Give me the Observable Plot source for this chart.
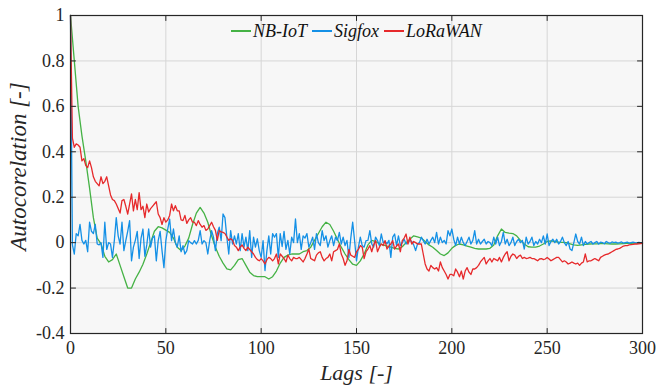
<!DOCTYPE html>
<html><head><meta charset="utf-8">
<script src="https://cdn.jsdelivr.net/npm/d3@7"></script>
<script src="https://cdn.jsdelivr.net/npm/@observablehq/plot@0.6"></script>
<style>
body{margin:0;background:#fff;}
#wrap{position:relative;width:657px;height:385px;}
#legend{position:absolute;left:231px;top:20px;display:flex;align-items:center;font-style:italic;font-size:18px;color:#111;white-space:nowrap;line-height:22px;}
#legend .sw{display:inline-block;width:20px;height:1.5px;margin-right:2px;}
#legend .it{margin-right:5px;}
</style></head><body>
<div id="wrap"><div id="legend"></div></div>
<script>
const seriesNames = ["NB-IoT", "Sigfox", "LoRaWAN"];
const seriesColors = ["#45b245", "#1490e6", "#e6292b"];
const xTicks = [0, 50, 100, 150, 200, 250, 300];
const yTicks = [-0.4, -0.2, 0, 0.2, 0.4, 0.6, 0.8, 1];
const yTickLabels = ["-0.4", "-0.2", "0", "0.2", "0.4", "0.6", "0.8", "1"];

// lags 0..300 (every lag) for Sigfox / LoRaWAN, every 2nd lag for NB-IoT
const lags = d3.range(0, 301);
const lagsNB = d3.range(0, 301, 2);

const nbiot = [
  1.0, 0.8, 0.6, 0.47, 0.36, 0.24, 0.11, 0.02, -0.005, -0.06,
  -0.085, -0.075, -0.05, -0.1, -0.15, -0.2, -0.2, -0.16, -0.13, -0.095,
  -0.05, 0.0, 0.05, 0.07, 0.065, 0.055, 0.045, 0.02, -0.02, -0.035,
  -0.015, 0.02, 0.08, 0.13, 0.155, 0.13, 0.09, 0.03, -0.02, -0.06,
  -0.09, -0.115, -0.12, -0.1, -0.075, -0.07, -0.1, -0.13, -0.145, -0.15,
  -0.15, -0.15, -0.16, -0.15, -0.125, -0.09, -0.065, -0.055, -0.05, -0.05,
  -0.05, -0.04, -0.035, -0.02, 0.01, 0.04, 0.07, 0.09, 0.08, 0.05,
  0.015, -0.02, -0.05, -0.075, -0.095, -0.1, -0.08, -0.05, -0.01, 0.01,
  0.005, -0.005, -0.01, -0.015, -0.02, -0.025, -0.028, -0.018, 0.0, 0.015,
  0.03, 0.025, 0.02, 0.005, -0.01, -0.02, -0.035, -0.05, -0.057, -0.045,
  -0.025, -0.012, -0.006, -0.01, -0.015, -0.02, -0.025, -0.028, -0.028, -0.028,
  -0.025, -0.01, 0.03, 0.06, 0.045, 0.042, 0.04, 0.03, 0.01, -0.006,
  -0.018, -0.02, -0.02, -0.015, -0.006, 0.005, 0.008, 0.005, 0.002, 0.001,
  0.0, -0.005, -0.01, -0.012, -0.01, -0.008, -0.006, -0.005, -0.005, -0.004,
  -0.004, -0.005, -0.006, -0.006, -0.005, -0.004, -0.003, -0.003, -0.002, -0.002,
  -0.002
];

const sigfox = [
  1.0, -0.01, -0.05, 0.04, 0.03, 0.08, 0.01, -0.006, 0.01, -0.04,
  0.09, 0.05, 0.04, 0.08, -0.006, -0.01, 0.0, -0.065, 0.09, -0.03,
  0.0, -0.006, -0.065, 0.01, 0.11, 0.03, -0.006, 0.09, -0.035, 0.009,
  0.05, 0.097, -0.08, -0.02, 0.01, 0.05, -0.07, 0.02, 0.06, -0.06,
  -0.01, 0.06, -0.02, 0.02, 0.03, -0.08, 0.009, 0.05, -0.035, -0.11,
  0.009, 0.06, 0.104, 0.009, 0.06, 0.0, -0.02, 0.03, -0.04, -0.013,
  -0.05, -0.035, 0.009, 0.0, -0.006, 0.009, -0.006, 0.01, 0.053, -0.006,
  0.009, 0.0, -0.05, 0.009, 0.053, 0.024, -0.035, 0.04, 0.068, 0.009,
  0.126, 0.11, 0.024, -0.05, 0.053, -0.006, 0.03, -0.006, 0.04, -0.035,
  0.04, -0.02, 0.024, -0.035, 0.053, -0.065, 0.024, -0.02, 0.017, -0.035,
  -0.065, 0.009, -0.123, -0.035, 0.03, -0.05, 0.04, 0.024, 0.04, -0.065,
  0.04, -0.017, 0.05, -0.03, 0.01, -0.05, 0.024, 0.0, 0.104, 0.0,
  0.04, -0.03, 0.03, 0.02, 0.04, -0.02, 0.0, 0.024, -0.03, 0.04,
  0.0, -0.013, 0.053, 0.009, 0.03, -0.02, 0.009, 0.03, -0.013, 0.024,
  0.009, 0.045, -0.006, 0.024, -0.013, 0.01, -0.065, 0.02, 0.09, 0.009,
  -0.08, -0.02, 0.024, -0.013, -0.02, 0.009, 0.01, 0.053, -0.006, -0.02,
  0.024, 0.009, -0.013, 0.038, 0.0, 0.005, -0.005, 0.01, -0.065, 0.024,
  0.038, -0.013, 0.03, -0.013, 0.0, 0.015, -0.006, 0.0, 0.01, 0.005,
  -0.01, -0.035, -0.006, 0.0, 0.024, 0.009, -0.006, 0.015, -0.006, 0.01,
  0.024, 0.0, 0.045, -0.006, 0.024, 0.0, 0.01, -0.006, 0.053, 0.03,
  0.06, 0.015, -0.013, 0.024, -0.006, 0.024, 0.0, -0.013, 0.005, 0.024,
  -0.006, 0.01, 0.053, -0.006, 0.015, -0.006, 0.005, 0.015, -0.006, 0.005,
  0.0, -0.013, 0.024, -0.006, 0.024, -0.013, 0.005, 0.045, -0.006, 0.015,
  -0.013, 0.0, 0.024, -0.013, 0.005, 0.015, 0.0, 0.01, -0.028, 0.024,
  -0.006, 0.005, 0.024, -0.013, 0.005, -0.006, 0.015, 0.0, 0.03, -0.006,
  0.038, -0.013, 0.005, 0.015, 0.0, 0.015, -0.006, 0.005, 0.024, 0.0,
  -0.013, 0.005, -0.028, -0.035, 0.0, 0.038, 0.005, -0.006, 0.024, -0.013,
  0.005, -0.006, 0.0, 0.005, -0.006, 0.0, 0.005, -0.006, 0.002, 0.0,
  -0.005, 0.005, 0.0, -0.003, 0.003, 0.0, 0.002, -0.002, 0.0, 0.003,
  -0.002, 0.0, 0.002, -0.002, 0.0, 0.002, 0.0, -0.001, 0.001, 0.0,
  0.0
];

const lorawan = [
  1.0, 0.46, 0.42, 0.435, 0.43, 0.42, 0.36, 0.37, 0.34, 0.33,
  0.36, 0.33, 0.29, 0.27, 0.26, 0.25, 0.29, 0.26, 0.27, 0.29,
  0.25, 0.21, 0.19, 0.185, 0.17, 0.15, 0.13, 0.185, 0.19, 0.16,
  0.126, 0.17, 0.215, 0.14, 0.19, 0.145, 0.22, 0.145, 0.16, 0.11,
  0.17, 0.135, 0.15, 0.16, 0.17, 0.18, 0.126, 0.11, 0.08, 0.11,
  0.09, 0.1, 0.12, 0.17, 0.14, 0.163, 0.14, 0.14, 0.1, 0.097,
  0.12, 0.085, 0.1, 0.11, 0.09, 0.09, 0.075, 0.097, 0.08, 0.068,
  0.075, 0.054, 0.06, 0.075, 0.09, 0.07, 0.054, 0.01, 0.054, 0.047,
  0.045, 0.04, 0.025, 0.01, 0.017, 0.01, -0.013, -0.02, -0.035, -0.02,
  -0.01, -0.025, -0.035, -0.02, -0.03, -0.04, -0.05, -0.065, -0.075, -0.08,
  -0.07, -0.08, -0.094, -0.075, -0.065, -0.07, -0.08, -0.07, -0.05, -0.094,
  -0.05, -0.06, -0.07, -0.085, -0.055, -0.07, -0.08, -0.065, -0.07, -0.07,
  -0.065, -0.075, -0.085, -0.07, -0.05, -0.028, -0.07, -0.075, -0.08, -0.055,
  -0.045, -0.04, -0.065, -0.08, -0.07, -0.065, -0.05, -0.08, -0.04, -0.035,
  -0.03, -0.006, -0.05, -0.07, -0.1, -0.08, -0.03, -0.055, -0.06, -0.065,
  -0.04, -0.03, -0.013, -0.02, -0.07, -0.04, -0.028, -0.013, -0.04, -0.01,
  0.009, -0.04, -0.02, -0.006, -0.013, 0.009, -0.028, -0.015, -0.006, 0.009,
  -0.028, -0.015, -0.006, -0.04, 0.009, 0.02, 0.038, -0.006, 0.024, -0.006,
  0.005, 0.0, -0.006, -0.006, -0.006, -0.05, -0.094, -0.116, -0.125, -0.1,
  -0.11, -0.116, -0.11, -0.125, -0.085, -0.11, -0.125, -0.14, -0.16, -0.14,
  -0.14, -0.146, -0.116, -0.13, -0.15, -0.125, -0.16, -0.125, -0.11, -0.13,
  -0.14, -0.116, -0.116, -0.11, -0.1, -0.085, -0.075, -0.065, -0.094, -0.08,
  -0.07, -0.085, -0.07, -0.075, -0.08, -0.065, -0.085, -0.065, -0.05, -0.04,
  -0.08, -0.06, -0.05, -0.055, -0.07, -0.06, -0.055, -0.07, -0.065, -0.07,
  -0.068, -0.065, -0.07, -0.07, -0.075, -0.08, -0.072, -0.07, -0.075, -0.072,
  -0.065, -0.072, -0.08, -0.075, -0.07, -0.065, -0.065, -0.075, -0.085, -0.08,
  -0.085, -0.094, -0.09, -0.085, -0.09, -0.094, -0.09, -0.1, -0.09, -0.085,
  -0.05, -0.085, -0.08, -0.08, -0.075, -0.07, -0.075, -0.08, -0.065, -0.06,
  -0.055, -0.052, -0.05, -0.045, -0.04, -0.035, -0.03, -0.028, -0.025, -0.02,
  -0.015, -0.013, -0.013, -0.01, -0.009, -0.008, -0.006, -0.006, -0.005, -0.004,
  -0.003
];

const nbRows = lagsNB.map((lag, i) => ({lag, value: nbiot[i]}));
const sfRows = lags.map((lag, i) => ({lag, value: sigfox[i]}));
const lrRows = lags.map((lag, i) => ({lag, value: lorawan[i]}));

const frameColor = "#262626";
const serif = "Liberation Serif, Tinos, Times New Roman, Times, Nimbus Roman, FreeSerif, Noto Serif, DejaVu Serif, serif";
document.getElementById("wrap").style.fontFamily = serif;
document.getElementById("legend").style.fontFamily = serif;
const tickShape = {draw(context, l) { context.moveTo(0, 0); context.lineTo(0, -l); }};
const tickOpts = {length: 5, anchor: "start", shape: tickShape, stroke: frameColor, strokeWidth: 1};

const chart = Plot.plot({
  width: 657, height: 385,
  marginLeft: 70, marginRight: 15, marginTop: 15, marginBottom: 52,
  style: {fontFamily: serif, background: "#fff", color: frameColor},
  x: {domain: [0, 300], label: null, axis: null},
  y: {domain: [-0.4, 1], label: null, axis: null},
  marks: [
    Plot.frame({fill: "#f7f7f7", stroke: null}),
    Plot.gridX(xTicks, {stroke: "#d6d6d6", strokeOpacity: 1, strokeWidth: 1}),
    Plot.gridY(yTicks, {stroke: "#d6d6d6", strokeOpacity: 1, strokeWidth: 1}),
    Plot.line(nbRows, {x: "lag", y: "value", stroke: seriesColors[0], strokeWidth: 1.3}),
    Plot.line(sfRows, {x: "lag", y: "value", stroke: seriesColors[1], strokeWidth: 1.3}),
    Plot.line(lrRows, {x: "lag", y: "value", stroke: seriesColors[2], strokeWidth: 1.3}),
    Plot.frame({stroke: frameColor, strokeWidth: 1.2}),
    Plot.vector(xTicks, {x: d => d, frameAnchor: "bottom", rotate: 0, ...tickOpts}),
    Plot.vector(xTicks, {x: d => d, frameAnchor: "top", rotate: 180, ...tickOpts}),
    Plot.vector(yTicks, {y: d => d, frameAnchor: "left", rotate: 90, ...tickOpts}),
    Plot.vector(yTicks, {y: d => d, frameAnchor: "right", rotate: -90, ...tickOpts}),
    Plot.axisX(xTicks, {anchor: "bottom", tickSize: 0, tickPadding: 8, fontSize: 18, fontFamily: serif, fill: frameColor, tickFormat: d => String(d), label: null}),
    Plot.axisY(yTicks, {anchor: "left", tickSize: 0, tickPadding: 6, fontSize: 18, fontFamily: serif, fill: frameColor, tickFormat: d => yTickLabels[yTicks.indexOf(d)], label: null}),
    Plot.text(["Lags [-]"], {text: d => d, frameAnchor: "bottom", dy: 39, fontSize: 22, fontFamily: serif, fontStyle: "italic", fill: frameColor, textAnchor: "middle", lineAnchor: "middle"}),
    Plot.text(["Autocorelation [-]"], {text: d => d, frameAnchor: "left", dx: -52, dy: -8, rotate: -90, fontSize: 23, fontFamily: serif, fontStyle: "italic", fill: frameColor, textAnchor: "middle", lineAnchor: "middle"})
  ]
});
document.getElementById("wrap").prepend(chart);

const legend = document.getElementById("legend");
seriesNames.forEach((name, i) => {
  const sw = document.createElement("span");
  sw.className = "sw";
  sw.style.background = seriesColors[i];
  const t = document.createElement("span");
  t.className = "it";
  t.textContent = name;
  legend.append(sw, t);
});
</script>
</body></html>
